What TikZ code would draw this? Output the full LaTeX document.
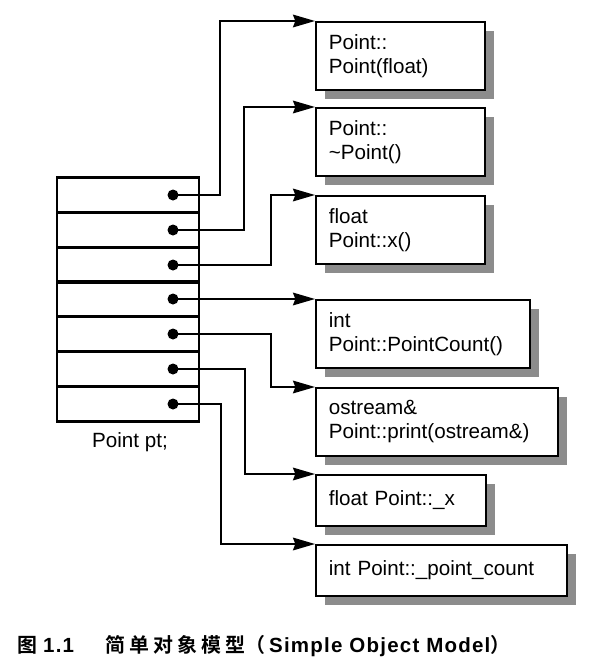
\documentclass[tikz,border=0pt]{standalone}
\usepackage{fontspec}
\setmainfont{Liberation Sans}
\newfontfamily\cjkfont[BoldFont={Noto Sans CJK SC Bold}]{Noto Sans CJK SC}
\newfontfamily\cjkwide[BoldFont={Noto Sans CJK SC Bold},LetterSpace=20]{Noto Sans CJK SC}
\newfontfamily\capfont[LetterSpace=6]{Liberation Sans}
\usetikzlibrary{arrows.meta,shadows,positioning}

\begin{document}
\begin{tikzpicture}[x=0.03cm,y=-0.03cm,
    cell/.style={draw,line width=2pt,minimum width=4.26cm,minimum height=1.05cm,inner sep=0pt},
    dot/.style={circle,fill=black,minimum size=0.33cm,inner sep=0pt},
    func/.style={draw,line width=1.5pt,fill=white,anchor=north west,align=left,
        inner xsep=0.39cm,inner ysep=0pt,font=\fontsize{17.6}{20.5}\selectfont,
        drop shadow={shadow xshift=0.27cm,shadow yshift=-0.27cm,fill=black!45,opacity=1}},
    link/.style={line width=1.6pt,-{Stealth[length=0.66cm,width=0.38cm,inset=0.07cm]}}]
    \useasboundingbox (0,0) rectangle (600,668);

    % Drawing the object pt
    \foreach \i/\y in {1/195,2/230,3/265,4/299,5/334,6/369,7/404}{
        \node[cell] (r\i) at (128,\y) {};
        \node[dot] (d\i) at (173,\y) {};
    }
    \node[font=\fontsize{17.6}{20.5}\selectfont] (obj) at (130,442) {Point pt;};

    % Drawing the members
    \node[func,text width=4.29cm,minimum height=2.04cm] (f1) at (315,21) {Point::\\Point(float)};
    \node[func,text width=4.29cm,minimum height=2.04cm] (f2) at (315,107) {Point::\\\textasciitilde Point()};
    \node[func,text width=4.29cm,minimum height=2.04cm] (f3) at (315,195) {float\\Point::x()};
    \node[func,text width=5.64cm,minimum height=2.04cm] (f4) at (315,299) {int\\Point::PointCount()};
    \node[func,text width=6.48cm,minimum height=2.04cm] (f5) at (315,387) {ostream\&\\Point::print(ostream\&)};
    \node[func,text width=4.32cm,minimum height=1.53cm] (f6) at (315,474) {float Point::\_x};
    \node[func,text width=6.75cm,minimum height=1.53cm] (f7) at (315,544) {int Point::\_point\_count};

    % Drawing the pointers
    \draw[link] (d1.center) -- ++(47,0) |- (f1.north west);
    \draw[link] (d2.center) -- ++(71,0) |- (f2.north west);
    \draw[link] (d3.center) -- ++(98,0) |- (f3.north west);
    \draw[link] (d4.center) -- (f4.north west);
    \draw[link] (d5.center) -- ++(98,0) |- (f5.north west);
    \draw[link] (d6.center) -- ++(72,0) |- (f6.north west);
    \draw[link] (d7.center) -- ++(48,0) |- (f7.north west);

    % Caption
    \node[anchor=west,inner sep=0pt,font=\fontsize{17.5}{20}\selectfont\bfseries] (cap) at (17,646)
        {{\cjkfont\fontsize{17}{20}\selectfont 图}\hspace{0.18cm}{\capfont 1.1}\hspace{0.95cm}%
         {\cjkwide\fontsize{17}{20}\selectfont 简单对象模型}{\cjkfont\fontsize{17}{20}\selectfont （}%
         \hspace{0.12cm}{\capfont Simple Object Model}{\cjkfont\fontsize{17}{20}\selectfont ）}};
\end{tikzpicture}
\end{document}
